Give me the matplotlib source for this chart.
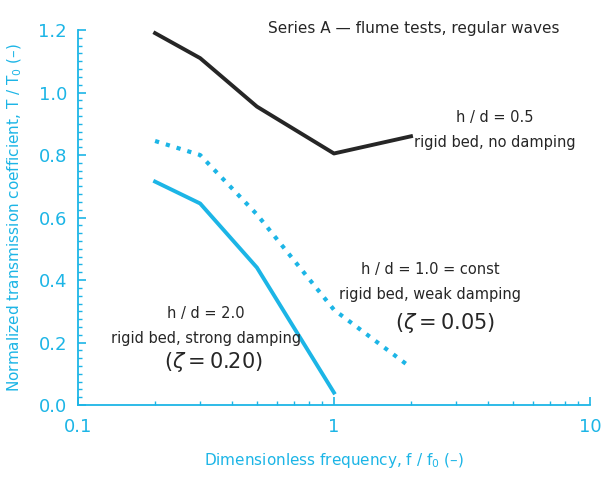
import matplotlib
matplotlib.use('Agg')
from matplotlib import pyplot as plt
from matplotlib.ticker import AutoMinorLocator, FixedLocator, LogLocator, NullFormatter

# values
x_pts = [0.2, 0.3, 0.5, 1.0, 2.0]
y_black = [1.19, 1.11, 0.955, 0.805, 0.86]
y_dotted = [0.845, 0.80, 0.61, 0.305, 0.12]
x_solid = [0.2, 0.3, 0.5, 1.0]
y_solid = [0.715, 0.645, 0.44, 0.04]

x_ticks = [0.1, 1, 10]
x_ticklabels = ['0.1', '1', '10']
y_ticks = [0.0, 0.2, 0.4, 0.6, 0.8, 1.0, 1.2]

blue = '#1cb5e6'
dark = '#262626'
H = 484  # figure height in pixels, annotations are placed in pixels from the top

fig = plt.figure(figsize=(6.05, 4.84), dpi=100)
ax = fig.add_axes([0.129, 0.163, 0.846, 0.775])

ax.plot(x_pts, y_black, color=dark, lw=2.8)
ax.plot(x_pts, y_dotted, color=blue, lw=3, linestyle=(0, (1, 1.7)))
ax.plot(x_solid, y_solid, color=blue, lw=2.8)

ax.set_xscale('log')
ax.set_xlim(0.1, 10)
ax.set_ylim(0.0, 1.2)
ax.xaxis.set_major_locator(FixedLocator(x_ticks))
ax.set_xticklabels(x_ticklabels)
ax.xaxis.set_minor_locator(LogLocator(base=10, subs=range(2, 10)))
ax.xaxis.set_minor_formatter(NullFormatter())
ax.set_yticks(y_ticks)
ax.set_yticklabels(['%.1f' % v for v in y_ticks])
ax.yaxis.set_minor_locator(AutoMinorLocator(8))

for side in ['top', 'right']:
  ax.spines[side].set_visible(False)
for side in ['left', 'bottom']:
  ax.spines[side].set_color(blue)
  ax.spines[side].set_linewidth(1.3)
ax.tick_params(which='both', direction='in', color=blue, labelcolor=blue, labelsize=13)
ax.tick_params(which='major', length=6, width=1.2)
ax.tick_params(which='minor', length=3, width=1.0)
ax.tick_params(axis='y', pad=8)
ax.tick_params(axis='x', pad=9)

ax.set_xlabel('Dimensionless frequency, f / f$_0$ (–)', color=blue, fontsize=11, labelpad=11)
ax.set_ylabel('Normalized transmission coefficient, T / T$_0$ (–)', color=blue,
              fontsize=11, labelpad=10)

ax.annotate('Series A — flume tests, regular waves', xy=(268, H - 28),
            xycoords='figure pixels', ha='left', va='center', fontsize=11,
            color=dark)
ax.annotate('h / d = 0.5\nrigid bed, no damping', xy=(495, H - 130),
            xycoords='figure pixels', ha='center', va='center', fontsize=10.5,
            color=dark, linespacing=1.8)
ax.annotate('h / d = 1.0 = const\nrigid bed, weak damping', xy=(430, H - 282),
            xycoords='figure pixels', ha='center', va='center', fontsize=10.5,
            color=dark, linespacing=1.8)
ax.annotate(r'$(\zeta = 0.05)$', xy=(445, H - 323), xycoords='figure pixels',
            ha='center', va='center', fontsize=15, color=dark)
ax.annotate('h / d = 2.0\nrigid bed, strong damping', xy=(206, H - 326),
            xycoords='figure pixels', ha='center', va='center', fontsize=10.5,
            color=dark, linespacing=1.8)
ax.annotate(r'$(\zeta = 0.20)$', xy=(213, H - 362), xycoords='figure pixels',
            ha='center', va='center', fontsize=15, color=dark)

fig.savefig('out.png', dpi=100)
